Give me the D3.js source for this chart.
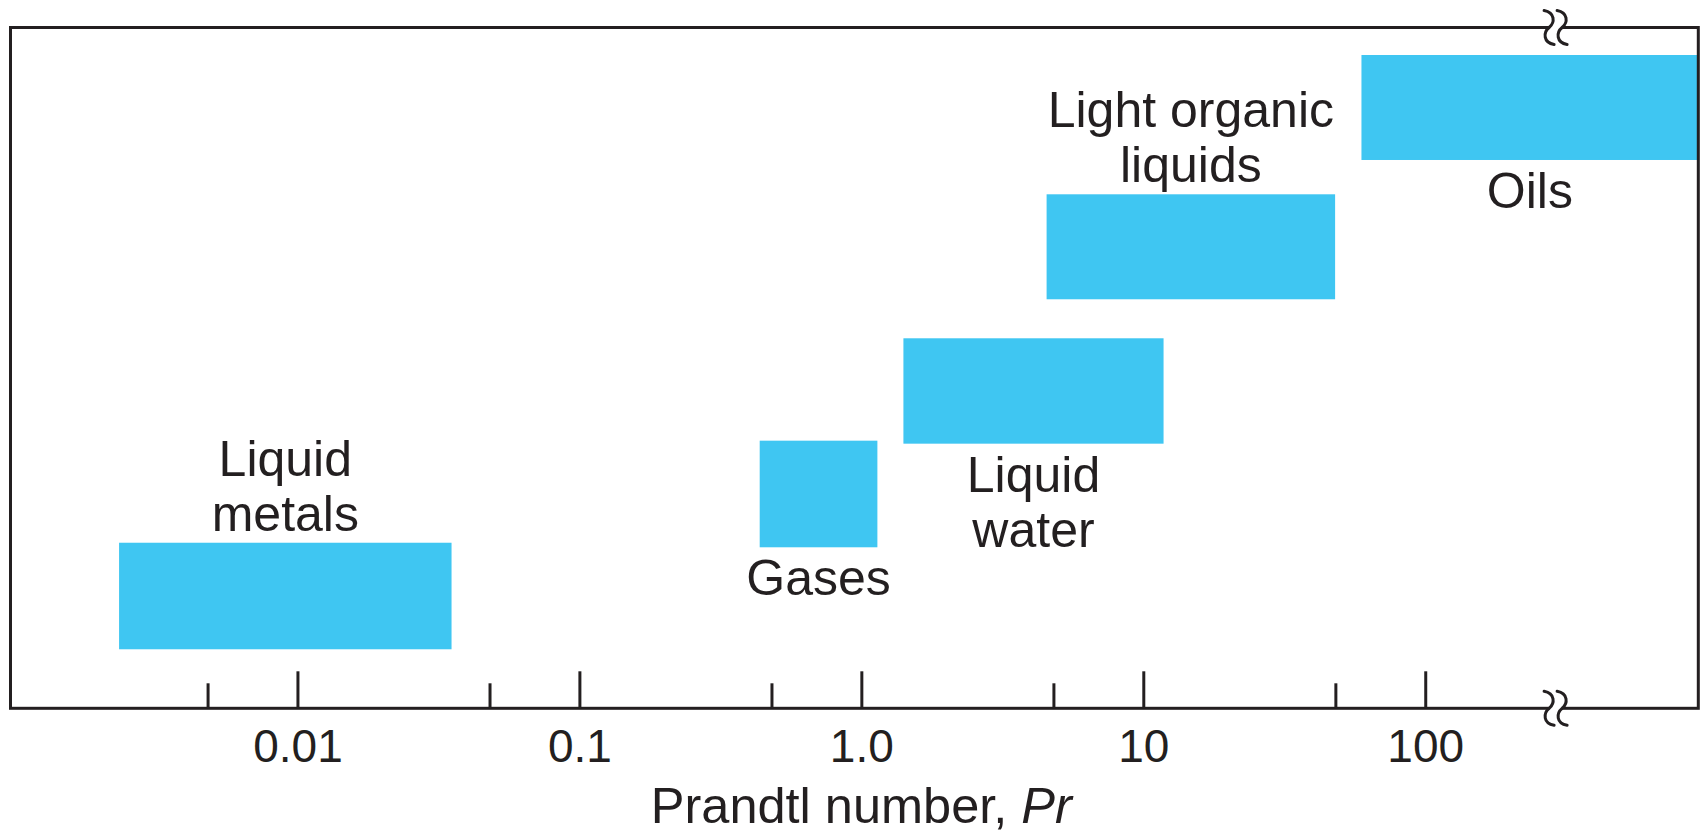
<!DOCTYPE html>
<html>
<head>
<meta charset="utf-8">
<script src="https://cdn.jsdelivr.net/npm/d3@7"></script>
<style>
  html, body { margin: 0; padding: 0; background: #fff; }
  svg { display: block; }
  text { font-family: "Liberation Sans", Arial, Helvetica, sans-serif; fill: #231f20; }
</style>
</head>
<body>
<svg id="chart" width="1702" height="834"></svg>
<script>
// ---- data ----
const categories = ["Liquid metals", "Gases", "Liquid water", "Light organic liquids", "Oils"];
const labelLines = [["Liquid", "metals"], ["Gases"], ["Liquid", "water"], ["Light organic", "liquids"], ["Oils"]];
const labelSide = ["above", "below", "below", "above", "below"];
const prMin = [0.00233, 0.436, 1.41, 4.54, 59.4];
const prMax = [0.0352, 1.14, 11.8, 47.9, 930];
const bandLow = [8.67, 23.65, 38.87, 60.08, 80.54];
const bandHigh = [24.32, 39.31, 54.35, 75.50, 95.96];
const majorTicks = [0.01, 0.1, 1, 10, 100];
const majorTickLabels = ["0.01", "0.1", "1.0", "10", "100"];
const minorTicks = [0.0048, 0.048, 0.48, 4.8, 48];
const xDomain = [0.00096, 930];
const breakAt = 290; // axis break position (Pr value)

// ---- setup ----
const svg = d3.select("#chart");
const ink = "#231f20";
const barColor = "#3fc6f2";
const mLeft = 10.5, mRight = 1698.3, mTop = 27.5, mBottom = 708.3;

const x = d3.scaleLog().domain(xDomain).range([mLeft, mRight]);
const y = d3.scaleLinear().domain([0, 100]).range([mBottom, mTop]);

const data = categories.map((c, i) => ({
  name: c, lines: labelLines[i], side: labelSide[i],
  x0: prMin[i], x1: prMax[i], y0: bandLow[i], y1: bandHigh[i]
}));

// bars
svg.append("g").selectAll("rect").data(data).join("rect")
  .attr("x", d => x(d.x0))
  .attr("y", d => y(d.y1))
  .attr("width", d => x(d.x1) - x(d.x0))
  .attr("height", d => y(d.y0) - y(d.y1))
  .attr("fill", barColor);

// labels
const fs = 50, lh = 55;
const lab = svg.append("g").selectAll("text").data(data).join("text")
  .attr("text-anchor", "middle")
  .attr("font-size", fs)
  .attr("x", d => (x(d.x0) + x(d.x1)) / 2);
lab.each(function(d) {
  const t = d3.select(this);
  const n = d.lines.length;
  let firstBase;
  if (d.side === "above") firstBase = y(d.y1) - 12 - (n - 1) * lh;
  else firstBase = y(d.y0) + 48;
  d.lines.forEach((ln, k) => {
    t.append("tspan").attr("x", (x(d.x0) + x(d.x1)) / 2).attr("y", firstBase + k * lh).text(ln);
  });
});

// frame
svg.append("rect")
  .attr("x", mLeft).attr("y", mTop)
  .attr("width", mRight - mLeft).attr("height", mBottom - mTop)
  .attr("fill", "none").attr("stroke", ink).attr("stroke-width", 3);

// major ticks + labels
const axisG = svg.append("g").attr("transform", `translate(0,${mBottom})`)
  .call(d3.axisBottom(x).tickValues(majorTicks).tickSize(-37)
    .tickFormat((d, i) => majorTickLabels[i]));
axisG.select(".domain").remove();
axisG.selectAll(".tick line").attr("stroke", ink).attr("stroke-width", 3);
axisG.selectAll(".tick text")
  .attr("y", 54).attr("dy", 0)
  .attr("font-size", 46)
  .attr("font-family", "Liberation Sans, Arial, sans-serif")
  .attr("fill", ink);

// minor ticks
const minorG = svg.append("g").attr("transform", `translate(0,${mBottom})`)
  .call(d3.axisBottom(x).tickValues(minorTicks).tickSize(-25).tickFormat(""));
minorG.select(".domain").remove();
minorG.selectAll(".tick line").attr("stroke", ink).attr("stroke-width", 3);

// axis title
const title = svg.append("text")
  .attr("x", x(1)).attr("y", 823)
  .attr("text-anchor", "middle").attr("font-size", 50.5);
title.append("tspan").text("Prandtl number, ");
title.append("tspan").attr("font-style", "italic").text("Pr");

// axis break marks
function drawBreak(cy) {
  const cx = x(breakAt);
  const g = svg.append("g");
  g.append("rect").attr("x", cx - 6).attr("y", cy - 4).attr("width", 12).attr("height", 8).attr("fill", "#fff");
  [-6.5, 6.5].forEach(off => {
    const c = cx + off;
    g.append("path")
      .attr("d", `M${c - 5},${cy - 17} C${c + 6},${cy - 15} ${c + 6},${cy - 5} ${c},${cy} C${c - 6},${cy + 5} ${c - 6},${cy + 15} ${c + 5},${cy + 17}`)
      .attr("fill", "none").attr("stroke", ink).attr("stroke-width", 3).attr("stroke-linecap", "round");
  });
}
drawBreak(mTop);
drawBreak(mBottom);
</script>
</body>
</html>
